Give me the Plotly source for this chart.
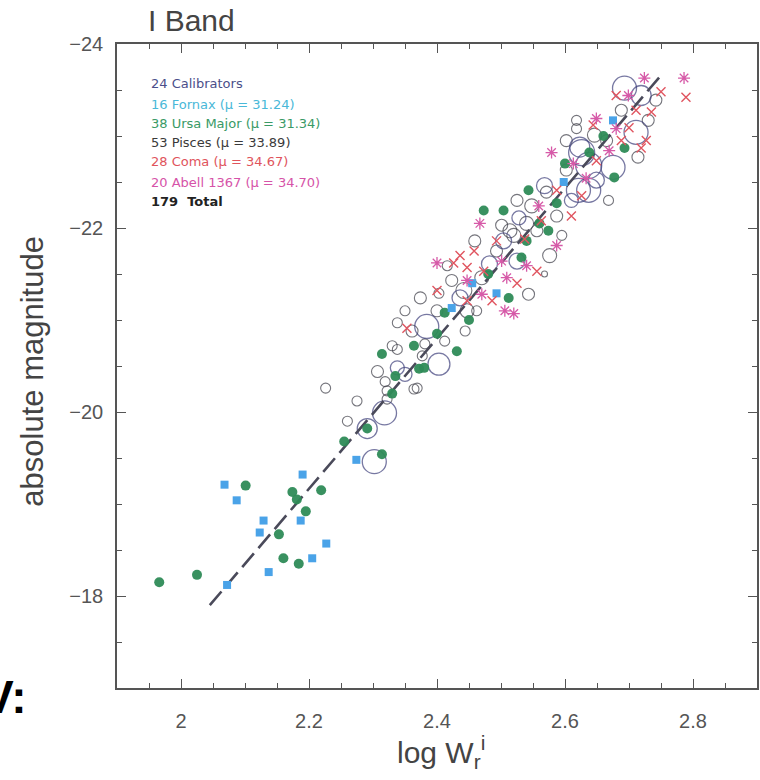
import plotly.graph_objects as go

# ---------------- data ----------------
cal_logw = [2.693, 2.719, 2.711, 2.626, 2.637, 2.675, 2.621, 2.637, 2.623, 2.384, 2.403, 2.318,
            2.291, 2.302, 2.568, 2.528, 2.525, 2.482, 2.436, 2.504, 2.649, 2.610, 2.338, 2.350]
cal_mag = [-23.52, -23.44, -23.04, -22.82, -22.68, -22.66, -22.41, -22.41, -22.88, -20.93, -20.52, -19.99,
           -19.82, -19.46, -22.46, -22.11, -21.64, -21.61, -21.24, -21.86, -22.52, -22.30, -20.48, -20.41]
cal_size = [24, 20, 24, 26, 26, 24, 24, 24, 20, 24, 22, 24, 20, 24, 16, 14, 16, 16, 16, 16, 16, 14, 14, 14]

pis_logw = [2.618, 2.618, 2.730, 2.714, 2.571, 2.540, 2.514, 2.576, 2.470, 2.543, 2.442, 2.568, 2.374,
            2.403, 2.350, 2.338, 2.447, 2.444, 2.381, 2.338, 2.412, 2.369, 2.322, 2.520, 2.226, 2.322,
            2.364, 2.319, 2.587, 2.556, 2.493, 2.423, 2.400, 2.361, 2.307, 2.275, 2.501, 2.665, 2.646,
            2.602, 2.688, 2.742, 2.548, 2.459, 2.416, 2.330, 2.595, 2.525, 2.668, 2.462, 2.260, 2.377, 2.602]
pis_mag = [-23.17, -23.08, -23.17, -22.77, -22.39, -22.05, -21.97, -21.70, -21.46, -21.28, -21.32, -21.50, -21.24,
           -21.29, -21.10, -20.97, -21.10, -20.88, -20.74, -20.68, -20.77, -20.26, -20.23, -21.92, -20.26, -20.14,
           -20.25, -20.33, -22.13, -21.97, -21.75, -21.43, -21.10, -20.88, -20.44, -20.12, -22.03, -22.95, -23.01,
           -22.63, -23.28, -23.39, -22.24, -21.86, -21.59, -20.72, -21.92, -22.30, -22.30, -21.10, -19.90, -20.61, -22.95]
pis_size = [10, 10, 12, 12, 12, 14, 14, 14, 14, 12, 16, 6, 12,
            10, 10, 10, 14, 10, 10, 10, 10, 10, 10, 14, 10, 10,
            10, 10, 12, 12, 12, 12, 12, 12, 12, 10, 12, 12, 14,
            12, 12, 12, 14, 12, 10, 10, 10, 12, 10, 10, 10, 10, 12]

uma_logw = [2.101, 2.174, 2.181, 2.219, 2.195, 2.153, 2.160, 2.184, 2.025, 1.966, 2.255, 2.314,
            2.473, 2.504, 2.543, 2.587, 2.574, 2.540, 2.532, 2.512, 2.412, 2.364, 2.431, 2.314,
            2.335, 2.372, 2.380, 2.291, 2.693, 2.677, 2.638,
            2.450, 2.480, 2.600, 2.560, 2.400, 2.660, 2.330]
uma_mag = [-19.20, -19.13, -19.05, -19.15, -18.92, -18.67, -18.41, -18.35, -18.23, -18.15, -19.68, -19.54,
           -22.19, -22.19, -22.41, -22.27, -21.97, -21.86, -21.68, -21.24, -21.08, -20.72, -20.66, -20.63,
           -20.39, -20.47, -20.48, -19.82, -22.87, -22.55, -22.82,
           -21.00, -21.50, -22.70, -22.05, -20.85, -23.00, -20.20]

fnx_logw = [2.068, 2.087, 2.129, 2.123, 2.137, 2.072, 2.190, 2.187, 2.227, 2.205, 2.274,
            2.493, 2.423, 2.675, 2.598, 2.455]
fnx_mag = [-19.21, -19.04, -18.82, -18.69, -18.26, -18.12, -19.32, -18.82, -18.57, -18.41, -19.48,
           -21.29, -21.13, -23.17, -22.50, -21.40]

coma_logw = [2.789, 2.735, 2.700, 2.719, 2.626, 2.436, 2.458, 2.447, 2.473, 2.353, 2.750, 2.711, 2.688, 2.649,
             2.587, 2.563, 2.537, 2.493, 2.426, 2.486, 2.525, 2.400, 2.447, 2.680, 2.644, 2.610, 2.727, 2.556]
coma_mag = [-23.42, -23.26, -23.09, -22.87, -22.35, -21.70, -21.75, -21.57, -21.53, -20.91, -23.48, -23.28, -22.95, -22.73,
            -22.41, -22.08, -21.88, -21.86, -21.62, -21.21, -21.40, -21.32, -21.21, -23.44, -23.12, -22.13, -22.95, -21.53]

abell_logw = [2.786, 2.724, 2.699, 2.649, 2.669, 2.613, 2.579, 2.467, 2.559, 2.509,
              2.506, 2.520, 2.470, 2.400, 2.501, 2.587, 2.540, 2.633, 2.680, 2.447]
abell_mag = [-23.63, -23.63, -23.44, -23.19, -22.84, -22.70, -22.82, -22.05, -22.24, -21.46,
             -21.10, -21.07, -21.28, -21.62, -21.64, -21.81, -21.59, -22.54, -23.08, -21.43]

fit_logw = [2.045, 2.750]
fit_mag = [-17.90, -23.66]

legend_labels = ["24 Calibrators", "16 Fornax (μ = 31.24)", "38 Ursa Major (μ = 31.34)",
                 "53 Pisces (μ = 33.89)", "28 Coma (μ = 34.67)", "20 Abell 1367 (μ = 34.70)",
                 "<b>179  Total</b>"]
legend_colors = ["#4b4f8a", "#49b8d8", "#3a9a66", "#3a3a3a", "#e0545c", "#d653a8", "#222222"]

x_ticks = [2, 2.2, 2.4, 2.6, 2.8]
y_ticks = [-24, -22, -20, -18]

# ---------------- figure ----------------
FONT = "Liberation Sans, Arial, Helvetica, sans-serif"
LEGFONT = "DejaVu Sans, Verdana, sans-serif"
AX = "#555555"

fig = go.Figure()

fig.add_trace(go.Scatter(x=pis_logw, y=pis_mag, mode="markers",
                         marker=dict(symbol="circle-open", size=pis_size, color="#3a3a44",
                                     line=dict(width=1.1, color="#3a3a44"))))
fig.add_trace(go.Scatter(x=cal_logw, y=cal_mag, mode="markers",
                         marker=dict(symbol="circle-open", size=cal_size, color="#3d3f7a",
                                     line=dict(width=1.3, color="#3d3f7a"))))
fig.add_trace(go.Scatter(x=fit_logw, y=fit_mag, mode="lines",
                         line=dict(color="#4a4a5a", width=2.6, dash="18px,7px")))
fig.add_trace(go.Scatter(x=uma_logw, y=uma_mag, mode="markers",
                         marker=dict(symbol="circle", size=10, color="#2e8b57", opacity=0.95)))
fig.add_trace(go.Scatter(x=fnx_logw, y=fnx_mag, mode="markers",
                         marker=dict(symbol="square", size=8, color="#4aa3e8")))
fig.add_trace(go.Scatter(x=coma_logw, y=coma_mag, mode="markers",
                         marker=dict(symbol="x-thin-open", size=9, color="#e05560",
                                     line=dict(width=1.4, color="#e05560"))))
fig.add_trace(go.Scatter(x=abell_logw, y=abell_mag, mode="markers",
                         marker=dict(symbol="asterisk-open", size=10, color="#d65aa8",
                                     line=dict(width=1.3, color="#d65aa8"))))

annotations = []
leg_y = [0.9394, 0.9068, 0.8773, 0.8478, 0.8168, 0.7857, 0.7547]
for lab, col, yy in zip(legend_labels, legend_colors, leg_y):
    annotations.append(dict(text=lab, x=0.05, y=yy, xref="paper", yref="paper",
                            xanchor="left", yanchor="middle", showarrow=False,
                            font=dict(family=LEGFONT, size=13, color=col)))

annotations += [
    dict(text="I Band", x=0.117, y=1.037, xref="paper", yref="paper", showarrow=False,
         xanchor="center", yanchor="middle", font=dict(family=FONT, size=30, color="#444444")),
    dict(text="absolute magnitude", x=-0.132, y=0.492, xref="paper", yref="paper", showarrow=False,
         textangle=-90, xanchor="center", yanchor="middle", font=dict(family=FONT, size=31, color="#444444")),
    dict(text="log W<sub>r</sub><sup>i</sup>", x=0.507, y=-0.099, xref="paper", yref="paper", showarrow=False,
         xanchor="center", yanchor="middle", font=dict(family=FONT, size=30, color="#444444")),
    dict(text="<b>V:</b>", x=-0.1389, y=-0.014, xref="paper", yref="paper", showarrow=False,
         xanchor="right", yanchor="middle", font=dict(family=FONT, size=46, color="#000000")),
]

fig.update_layout(
    width=760, height=780,
    margin=dict(l=117, r=1, t=44, b=92),
    paper_bgcolor="white", plot_bgcolor="white",
    showlegend=False,
    annotations=annotations,
    font=dict(family=FONT, color=AX),
)

fig.update_xaxes(range=[1.9, 2.9], tickvals=x_ticks, ticktext=[str(v) for v in x_ticks],
                 ticks="inside", ticklen=9, tickwidth=1.2, tickcolor=AX,
                 showline=True, linecolor=AX, linewidth=1.5, mirror="ticks",
                 showgrid=False, zeroline=False, ticklabelstandoff=14,
                 tickfont=dict(family=FONT, size=20, color="#555555"),
                 minor=dict(dtick=0.05, tick0=2, ticks="inside", ticklen=5, tickcolor=AX, tickwidth=1, showgrid=False))
fig.update_yaxes(range=[-17, -24], tickvals=y_ticks, ticktext=["\u2212" + str(abs(v)) for v in y_ticks],
                 ticks="inside", ticklen=9, tickwidth=1.2, tickcolor=AX,
                 showline=True, linecolor=AX, linewidth=1.5, mirror="ticks",
                 showgrid=False, zeroline=False, ticklabelstandoff=8,
                 tickfont=dict(family=FONT, size=20, color="#555555"),
                 minor=dict(dtick=0.5, tick0=-24, ticks="inside", ticklen=5, tickcolor=AX, tickwidth=1, showgrid=False))

fig.write_html("out.html")
